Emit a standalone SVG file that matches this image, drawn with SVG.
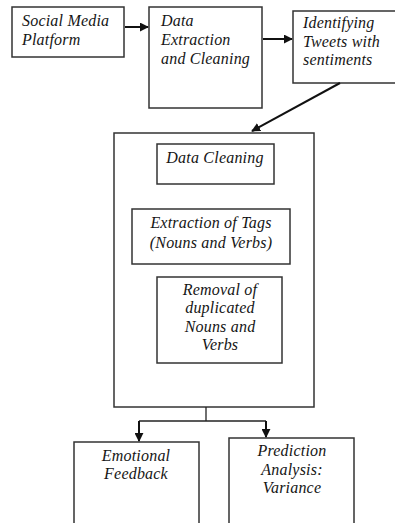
<svg xmlns="http://www.w3.org/2000/svg" width="395" height="523" viewBox="0 0 395 523">
<defs>
<marker id="ah" viewBox="0 0 10 10" refX="9" refY="5" markerWidth="4.5" markerHeight="4.5" orient="auto" markerUnits="strokeWidth">
<path d="M0,0 L10,5 L0,10 z" fill="#111"/>
</marker>
<style>
.box{fill:#fff;stroke:#333;stroke-width:1.5}
.t{font-family:"Liberation Serif","Times New Roman",serif;font-style:italic;font-size:16px;letter-spacing:0.2px;fill:#151515}
.c{text-anchor:middle}
.con{stroke:#111;stroke-width:2;fill:none}
.con2{stroke:#222;stroke-width:1.3;fill:none}
</style>
</defs>
<rect width="395" height="523" fill="#fff"/>
<g id="n1"><rect class="box" x="12" y="7" width="112" height="50"/>
<text class="t" x="22" y="26">Social Media</text><text class="t" x="22" y="45">Platform</text></g>
<g id="n2"><rect class="box" x="149" y="7" width="113" height="101"/>
<text class="t" x="161" y="26">Data</text><text class="t" x="161" y="45">Extraction</text><text class="t" x="161" y="64">and Cleaning</text></g>
<g id="n3"><rect class="box" x="293" y="11" width="106" height="72"/>
<text class="t" x="303" y="28">Identifying</text><text class="t" x="303" y="47">Tweets with</text><text class="t" x="303" y="65">sentiments</text></g>
<g id="n4"><rect class="box" x="114" y="133" width="200" height="274"/></g>
<g id="n5"><rect class="box" x="157" y="144" width="117" height="40"/>
<text class="t c" x="215" y="163">Data Cleaning</text></g>
<g id="n6"><rect class="box" x="132" y="209" width="158" height="55"/>
<text class="t c" x="211" y="228">Extraction of Tags</text><text class="t c" x="211" y="248">(Nouns and Verbs)</text></g>
<g id="n7"><rect class="box" x="157" y="277" width="125" height="86"/>
<text class="t c" x="220" y="295">Removal of</text><text class="t c" x="220" y="313">duplicated</text><text class="t c" x="220" y="332">Nouns and</text><text class="t c" x="220" y="350">Verbs</text></g>
<g id="n8"><rect class="box" x="74" y="442" width="125" height="90"/>
<text class="t c" x="136" y="461">Emotional</text><text class="t c" x="136" y="479">Feedback</text></g>
<g id="n9"><rect class="box" x="229" y="438" width="125" height="94"/>
<text class="t c" x="292" y="456">Prediction</text><text class="t c" x="292" y="475">Analysis:</text><text class="t c" x="292" y="493">Variance</text></g>
<g id="connectors">
<line class="con" x1="125" y1="27" x2="148" y2="27" marker-end="url(#ah)"/>
<line class="con" x1="263" y1="39" x2="292" y2="39" marker-end="url(#ah)"/>
<line class="con" x1="340" y1="83" x2="252" y2="131" marker-end="url(#ah)"/>
<polyline class="con2" points="206,407 206,421"/>
<polyline class="con2" points="139,421 266,421"/>
<line class="con" x1="139" y1="421" x2="139" y2="441" marker-end="url(#ah)"/>
<line class="con" x1="266" y1="421" x2="266" y2="437" marker-end="url(#ah)"/>
</g>
</svg>
